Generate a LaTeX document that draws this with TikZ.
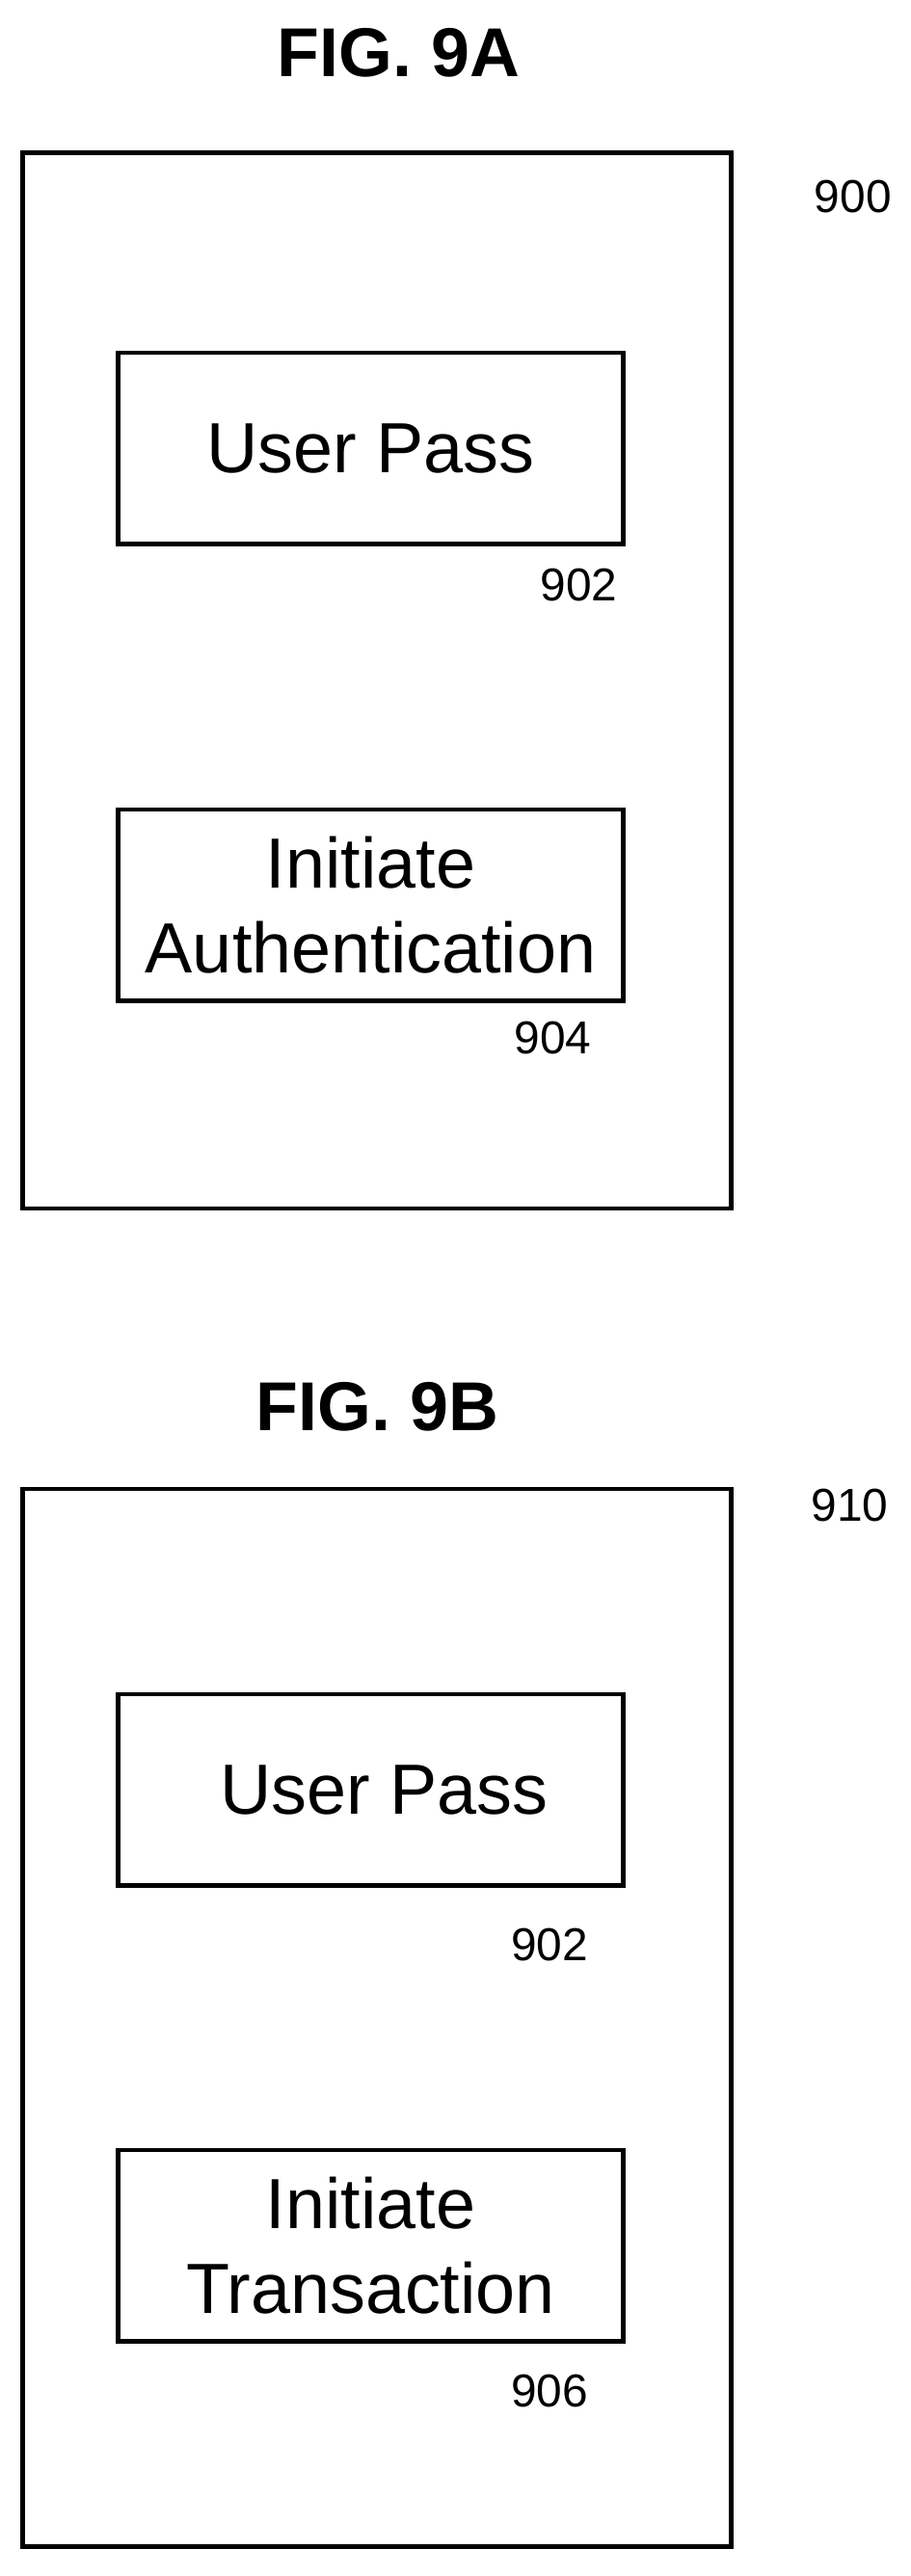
\documentclass[tikz,border=0pt]{standalone}
\usepackage{fontspec}
\setmainfont{Liberation Sans}
\usepackage{tikz}
\usetikzlibrary{positioning}

\tikzset{
  panel/.style={draw, line width=2.4pt},
  blockbox/.style={draw, line width=2.4pt, minimum width=9.24cm, minimum height=3.5cm, align=center, font=\fontsize{37}{44}\selectfont},
  refnum/.style={font=\fontsize{24}{28}\selectfont},
  figtitle/.style={font=\bfseries\fontsize{36}{40}\selectfont}
}

\begin{document}
\begin{tikzpicture}[x=0.03cm, y=-0.03cm]
  \useasboundingbox (0,0) rectangle (555,1571);
  %figure 9A
  \node[figtitle] (titleA) at (243,32) {FIG. 9A};
  \draw[panel] (14,93) rectangle (446,737);
  \node[refnum] (numA) at (520,120) {900};
  \node[blockbox] (passA) at (226,273.5) {User Pass};
  \node[refnum] (numpassA) at (353,357) {902};
  \node[blockbox] (auth) at (226,552) {Initiate\\Authentication};
  \node[refnum] (numauth) at (337,633) {904};
  %figure 9B
  \node[figtitle] (titleB) at (230,858) {FIG. 9B};
  \draw[panel] (14,908) rectangle (446,1553);
  \node[refnum] (numB) at (518,918) {910};
  \node[blockbox] (passB) at (226,1091.5) {\hspace*{0.5cm}User Pass};
  \node[refnum] (numpassB) at (335,1186) {902};
  \node[blockbox] (trans) at (226,1369.5) {Initiate\\Transaction};
  \node[refnum] (numtrans) at (335,1458) {906};
\end{tikzpicture}
\end{document}
